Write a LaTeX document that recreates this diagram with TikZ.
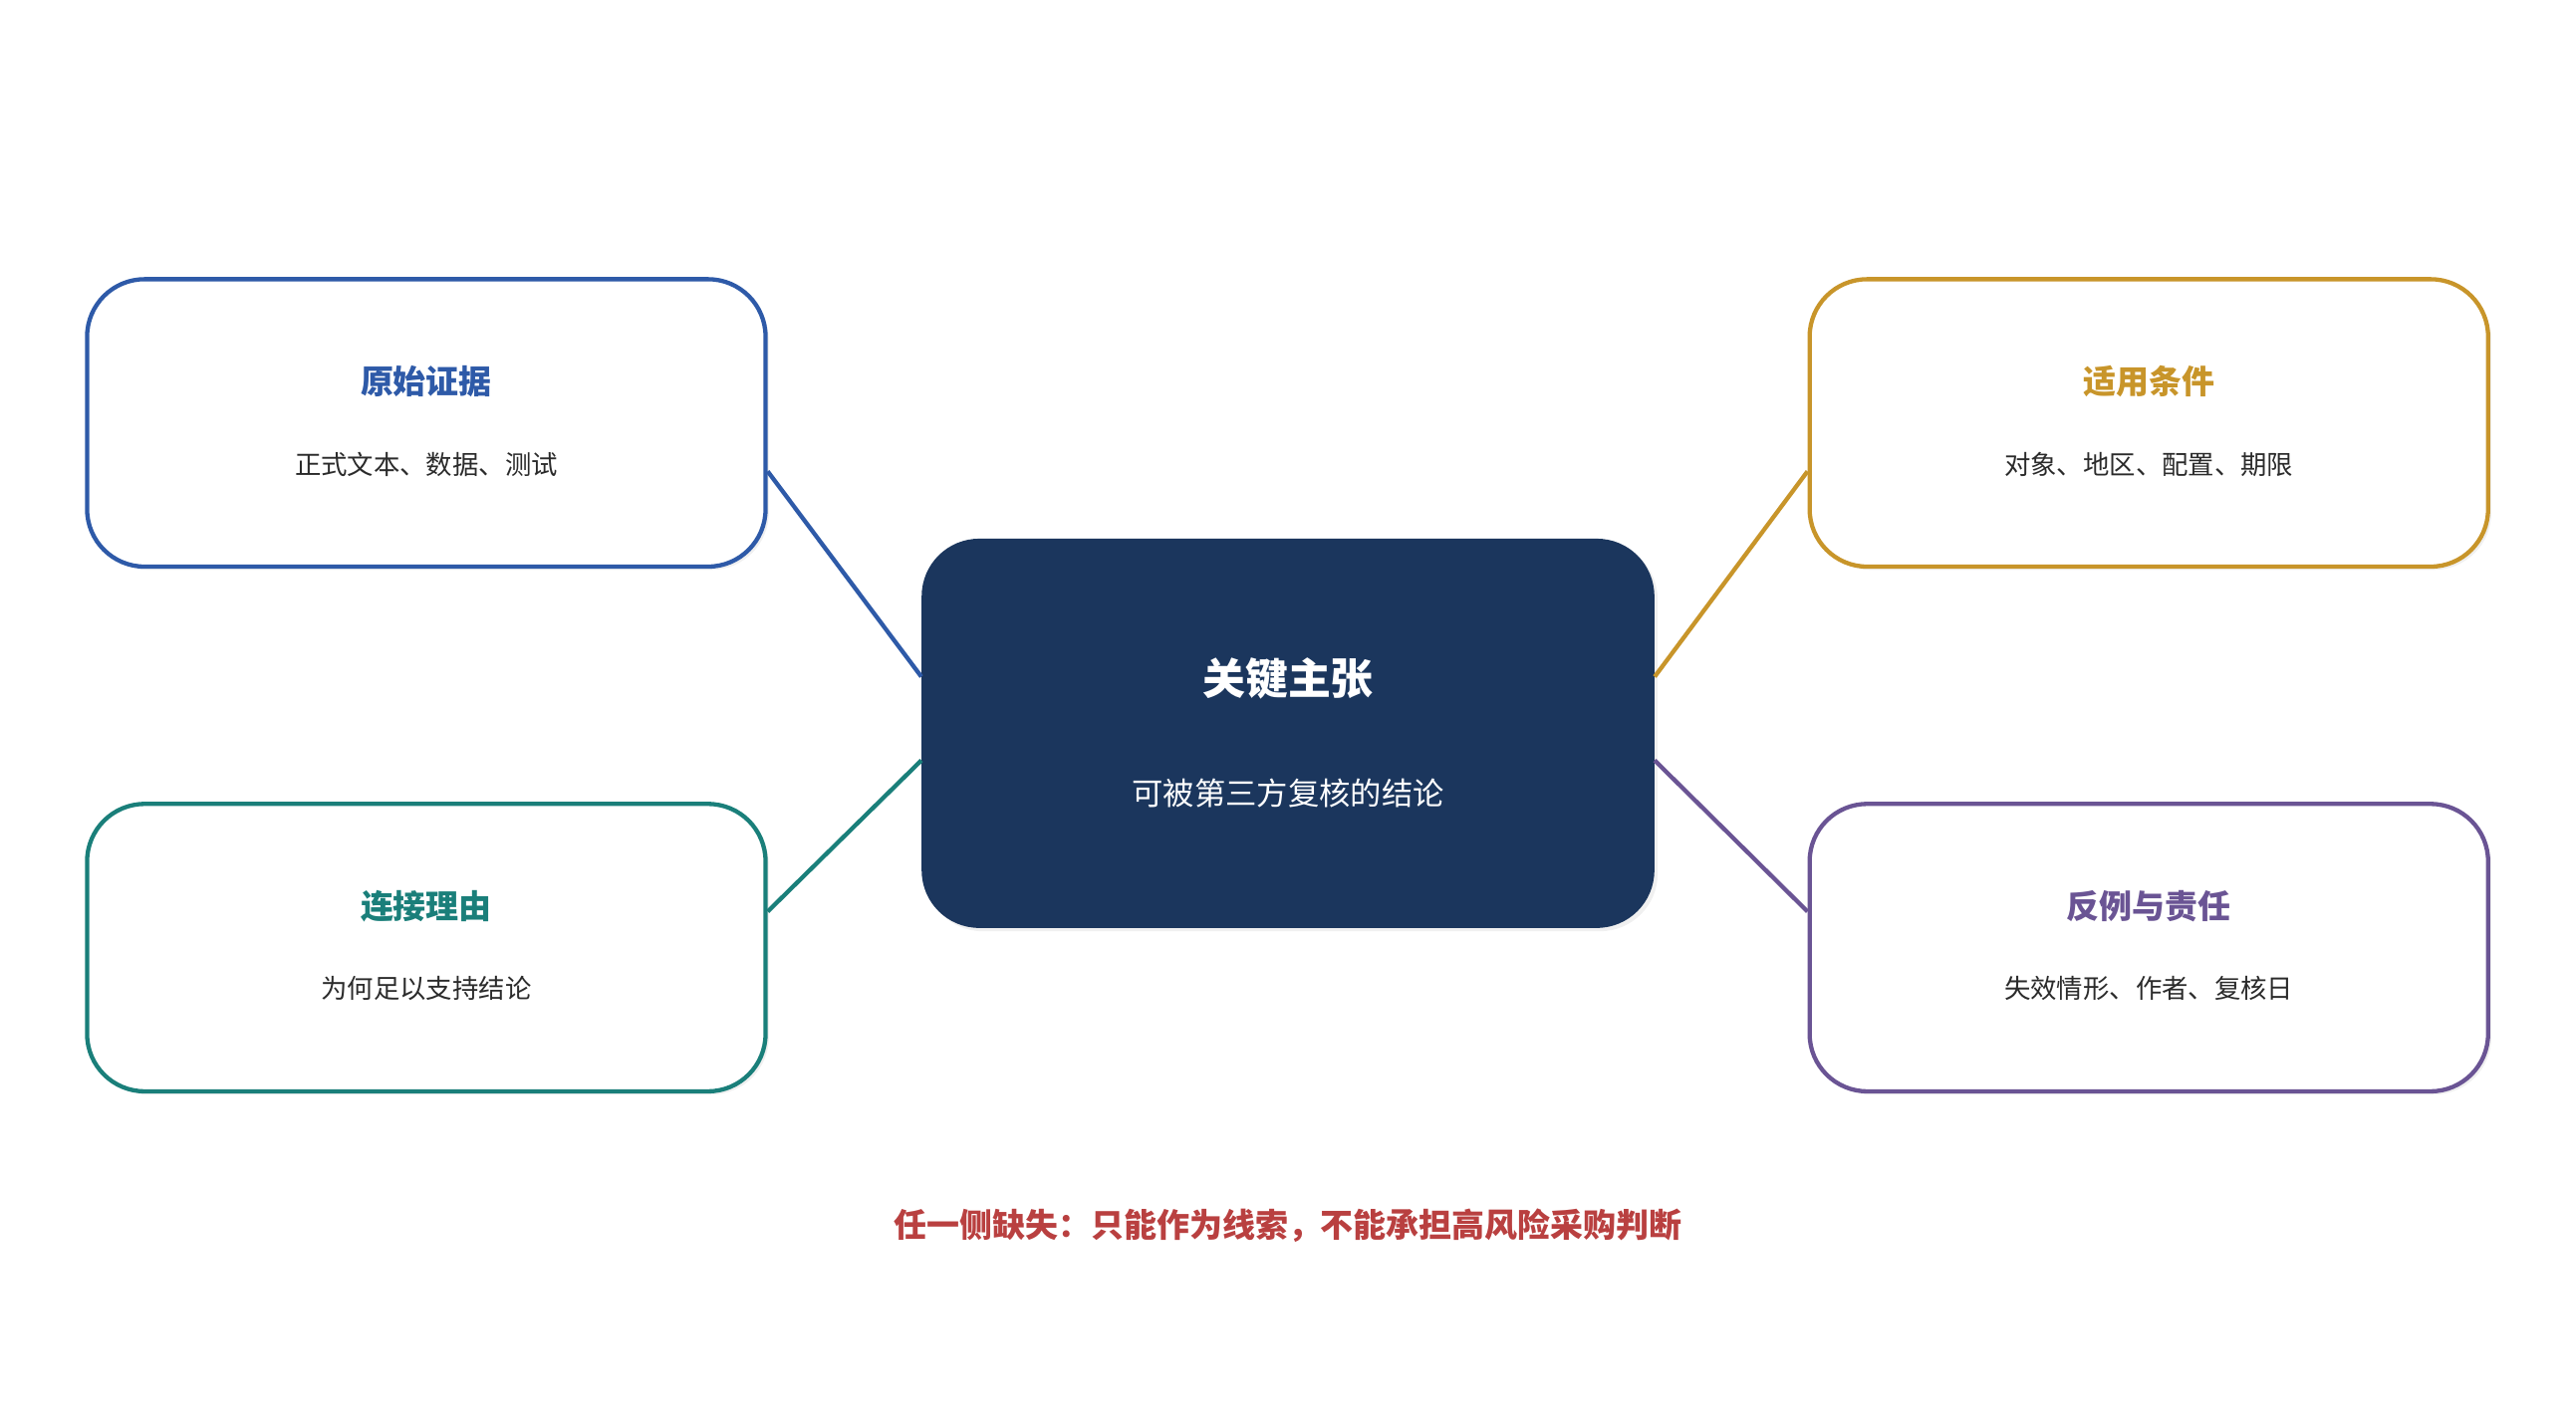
\documentclass[tikz,border=0pt]{standalone}
\usepackage{fontspec}
\setmainfont{Noto Sans CJK SC}
\newfontfamily\cjk{Noto Sans CJK SC}
\usetikzlibrary{shadows}
\definecolor{cblue}{HTML}{2E5AA8}
\definecolor{cteal}{HTML}{1A7F7A}
\definecolor{cgold}{HTML}{C8952A}
\definecolor{cpurp}{HTML}{6A5494}
\definecolor{cnavy}{HTML}{1B365D}
\definecolor{cred}{HTML}{B94040}
\definecolor{ctext}{HTML}{2B2B2B}
\begin{document}
\begin{tikzpicture}[x=1pt,y=-1pt,
  box/.style={draw=#1,line width=2.6pt,rounded corners=35pt,minimum width=413pt,minimum height=175pt,fill=white,
    drop shadow={shadow xshift=2pt,shadow yshift=-2pt,opacity=0.12}},
  ttl/.style={font=\cjk\bfseries\fontsize{20}{24}\selectfont,text=#1},
  sub/.style={font=\cjk\fontsize{16}{20}\selectfont,text=ctext},
  link/.style={draw=#1,line width=2.6pt}]
\useasboundingbox (0,0) rectangle (1568,868);
\node[box=cblue] (lt) at (259.5,257.5) {};
\node[box=cteal] (lb) at (259.5,577) {};
\node[box=cgold] (rt) at (1308,257.5) {};
\node[box=cpurp] (rb) at (1308,577) {};
\node[fill=cnavy,rounded corners=35pt,minimum width=446pt,minimum height=237pt,
  drop shadow={shadow xshift=2pt,shadow yshift=-2pt,opacity=0.12}] (c) at (784,446.5) {};
\node[ttl=cblue] (ltt) at (259.5,232) {原始证据};
\node[sub] (lts) at (259.5,283) {正式文本、数据、测试};
\node[ttl=cteal] (lbt) at (259.5,552) {连接理由};
\node[sub] (lbs) at (259.5,602) {为何足以支持结论};
\node[ttl=cgold] (rtt) at (1308,232) {适用条件};
\node[sub] (rts) at (1308,283) {对象、地区、配置、期限};
\node[ttl=cpurp] (rbt) at (1308,552) {反例与责任};
\node[sub] (rbs) at (1308,602) {失效情形、作者、复核日};
\node[font=\cjk\bfseries\fontsize{26}{30}\selectfont,text=white] (ct) at (784,413) {关键主张};
\node[font=\cjk\fontsize{19}{23}\selectfont,text=white] (cs) at (784,483) {可被第三方复核的结论};
\draw[link=cblue] ([yshift=-29.5pt]lt.east) -- ([yshift=34.5pt]c.west);
\draw[link=cteal] ([yshift=22pt]lb.east) -- ([yshift=-16.5pt]c.west);
\draw[link=cgold] ([yshift=34.5pt]c.east) -- ([yshift=-29.5pt]rt.west);
\draw[link=cpurp] ([yshift=-16.5pt]c.east) -- ([yshift=22pt]rb.west);
\node[font=\cjk\bfseries\fontsize{20}{24}\selectfont,text=cred] (note) at (784,746) {任一侧缺失：只能作为线索，不能承担高风险采购判断};
\end{tikzpicture}
\end{document}
